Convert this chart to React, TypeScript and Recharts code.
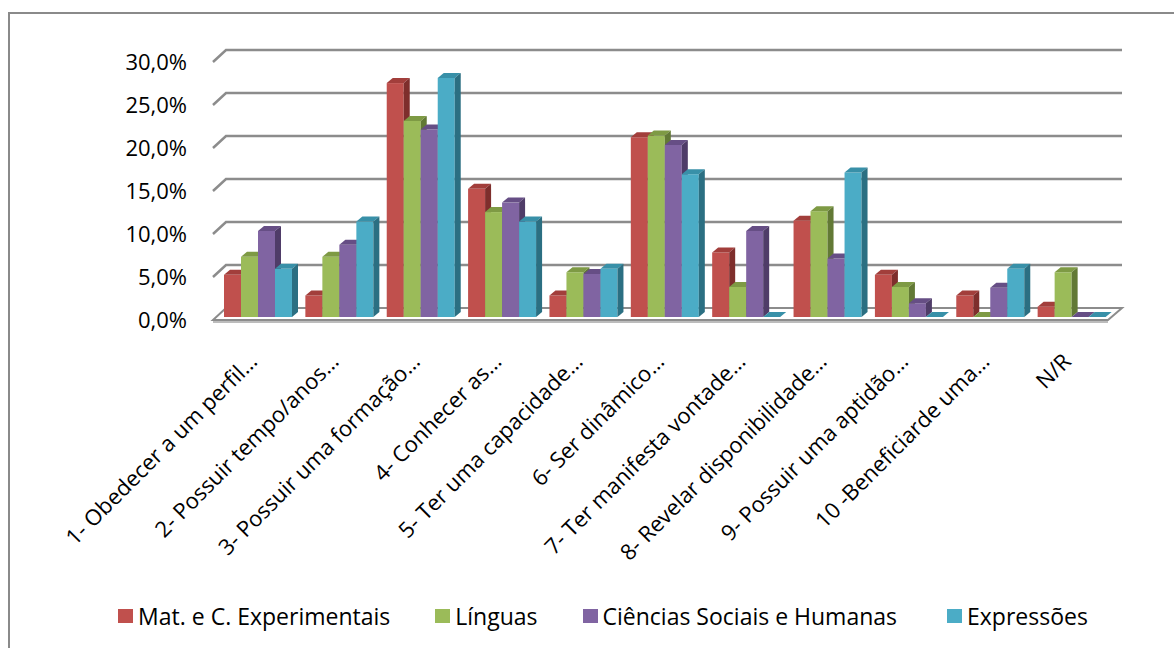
import { BarChart, Bar, XAxis, YAxis, CartesianGrid, Legend } from 'recharts';

const categories = [
    "1- Obedecer a um perfil…",
    "2- Possuir tempo/anos…",
    "3- Possuir uma formação…",
    "4- Conhecer as…",
    "5- Ter uma capacidade…",
    "6- Ser dinâmico…",
    "7- Ter manifesta vontade…",
    "8- Revelar disponibilidade…",
    "9- Possuir uma aptidão…",
    "10 -Beneficiarde uma…",
    "N/R",
];
const matValues = [4.9, 2.5, 27.2, 14.9, 2.5, 20.9, 7.5, 11.2, 4.9, 2.5, 1.2];
const linguasValues = [7.0, 7.0, 22.8, 12.2, 5.2, 21.1, 3.5, 12.3, 3.5, 0, 5.2];
const cshValues = [10.0, 8.4, 21.8, 13.3, 5.0, 20.0, 10.0, 6.8, 1.6, 3.4, 0];
const expValues = [5.6, 11.1, 27.8, 11.1, 5.6, 16.6, 0, 16.8, 0, 5.6, 0];
const yTicks = [0, 5, 10, 15, 20, 25, 30];

const series = [
    { key: "mat", name: "Mat. e C. Experimentais", fill: "#C0504D", top: "#A23E3B", side: "#7E2E2C" },
    { key: "lin", name: "Línguas", fill: "#9BBB59", top: "#7E9A44", side: "#627935" },
    { key: "csh", name: "Ciências Sociais e Humanas", fill: "#8064A2", top: "#664E85", side: "#4F3C68" },
    { key: "exp", name: "Expressões", fill: "#4BACC6", top: "#3890A8", side: "#2B6F82" },
];

const data = categories.map((cat, i) => ({
    cat,
    mat: matValues[i],
    lin: linguasValues[i],
    csh: cshValues[i],
    exp: expValues[i],
}));

const FONT = '"Open Sans", "DejaVu Sans", sans-serif';
// bar offset inside the 3D floor and bar depth
const OX = 5, OY = 3, DX = 6, DY = 5;
// grid depth
const GX = 13, GY = 12;

const bar3d = (top: string, side: string) => (props: any) => {
    const { x, y, width, height, fill } = props;
    const x0 = x + OX;
    const y0 = y - OY;
    const yb = y + height - OY;
    return (
        <g>
            {height > 0 && <rect x={x0} y={y0} width={width} height={height} fill={fill} />}
            <polygon
                points={`${x0},${y0} ${x0 + DX},${y0 - DY} ${x0 + width + DX},${y0 - DY} ${x0 + width},${y0}`}
                fill={top}
            />
            <polygon
                points={`${x0 + width},${y0} ${x0 + width + DX},${y0 - DY} ${x0 + width + DX},${yb - DY} ${x0 + width},${yb}`}
                fill={side}
            />
        </g>
    );
};

const gridLine = (props: any) => {
    const { x1, x2, y1, index } = props;
    if (index === 0) {
        return (
            <g key={`floor-${index}`}>
                <polygon
                    points={`${x1},${y1} ${x1 + GX},${y1 - GY} ${x2 + GX + 1},${y1 - GY} ${x2},${y1}`}
                    fill="#fff"
                    stroke="#8c8c8c"
                    strokeWidth={2}
                />
                <line x1={x1} y1={y1 + 2} x2={x2} y2={y1 + 2} stroke="#a6a6a6" strokeWidth={1.5} />
            </g>
        );
    }
    return (
        <path
            key={`grid-${index}`}
            d={`M${x1},${y1} L${x1 + GX},${y1 - GY} L${x2 + GX + 1},${y1 - GY}`}
            fill="none"
            stroke="#8c8c8c"
            strokeWidth={2.5}
        />
    );
};

const CategoryTick = (props: any) => {
    const { x, payload } = props;
    const ax = x + 5;
    const ay = 363;
    return (
        <text
            x={ax}
            y={ay}
            textAnchor="end"
            transform={`rotate(-45, ${ax}, ${ay})`}
            fontFamily={FONT}
            fontSize={22}
            fill="#000"
        >
            {payload.value}
        </text>
    );
};

const legendGaps = [45, 45, 50, 0];

const renderLegend = (props: any) => {
    const payload = [...(props.payload || [])].sort(
        (a: any, b: any) =>
            series.findIndex((s) => s.name === a.value) - series.findIndex((s) => s.name === b.value)
    );
    return (
        <div style={{ display: 'flex', justifyContent: 'center', alignItems: 'center', height: 40, fontFamily: FONT, fontSize: 23, color: '#000', transform: 'translateX(49px)' }}>
            {payload.map((entry: any, i: number) => (
                <div key={entry.value} style={{ display: 'flex', alignItems: 'center', marginRight: legendGaps[i] }}>
                    <span style={{ display: 'inline-block', width: 15, height: 14, background: entry.color, marginRight: 5 }} />
                    <span>{entry.value}</span>
                </div>
            ))}
        </div>
    );
};

const App = () => {
    return (
        <div style={{ position: 'fixed', left: 0, top: 0, width: 1174, height: 648, background: '#fff' }}>
            <div style={{ position: 'absolute', left: 8, top: 12, right: -10, bottom: -10, borderLeft: '2px solid #8a8a8a', borderTop: '2px solid #8a8a8a' }} />
            <BarChart
                width={1174}
                height={648}
                data={data}
                margin={{ top: 62, right: 66, left: 0, bottom: 12 }}
                barCategoryGap={6}
                barGap={0}
            >
                <CartesianGrid vertical={false} horizontal={gridLine} />
                <YAxis
                    domain={[0, 30]}
                    ticks={yTicks}
                    width={213}
                    axisLine={false}
                    tickLine={false}
                    tickMargin={20}
                    tick={{ fill: '#000', fontSize: 22, fontFamily: FONT }}
                    tickFormatter={(v: number) => `${v.toFixed(1).replace('.', ',')}%`}
                />
                <XAxis
                    dataKey="cat"
                    axisLine={false}
                    tickLine={false}
                    height={276}
                    interval={0}
                    tick={<CategoryTick />}
                />
                <Legend verticalAlign="bottom" height={40} content={renderLegend} />
                {series.map((s) => (
                    <Bar
                        key={s.key}
                        dataKey={s.key}
                        name={s.name}
                        fill={s.fill}
                        isAnimationActive={false}
                        shape={bar3d(s.top, s.side)}
                    />
                ))}
            </BarChart>
        </div>
    );
};

export default App;
